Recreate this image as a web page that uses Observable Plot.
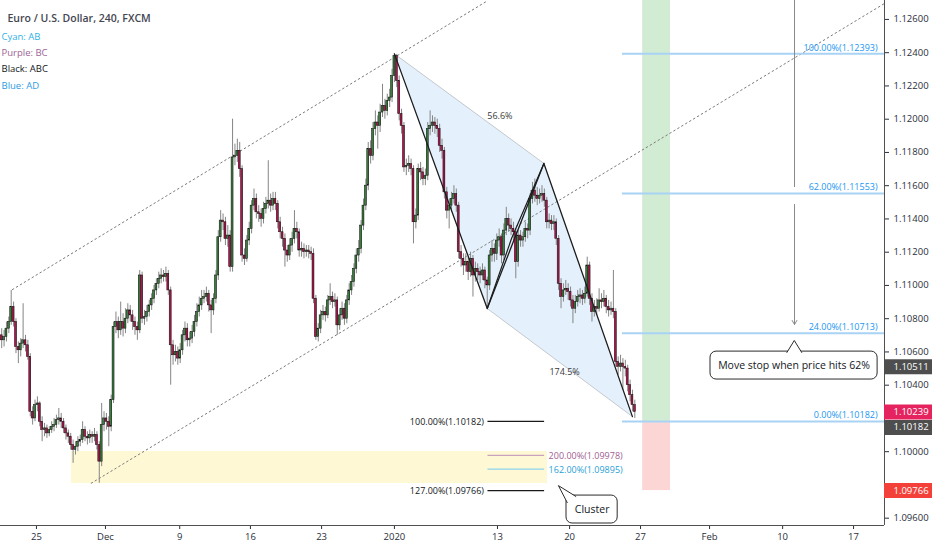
<!DOCTYPE html>
<html><head><meta charset="utf-8">
<script src="https://cdn.jsdelivr.net/npm/d3@7"></script>
<script src="https://cdn.jsdelivr.net/npm/@observablehq/plot@0.6"></script>
<style>
html,body{margin:0;padding:0;background:#fff;}
#chart{width:932px;height:550px;overflow:hidden;}
</style></head><body><div id="chart"></div>
<script>
// ---- EUR/USD 4h candles (bar index 0..266), open = previous close ----
const firstOpen = 1.1070;
const closes = [
1.1067,1.1069,1.1074,1.1078,1.1087,1.1078,1.1063,1.1061,1.1065,1.1067,
1.1064,1.1057,1.1024,1.1020,1.1028,1.1029,1.1018,1.1013,1.1014,1.1011,
1.1013,1.1015,1.1016,1.1019,1.1020,1.1018,1.1014,1.1011,1.1009,1.1004,
1.1001,1.1003,1.1006,1.1007,1.1013,1.1009,1.1008,1.1010,1.1009,1.1010,
1.1004,1.0994,1.1016,1.1020,1.1018,1.1015,1.1031,1.1075,1.1078,1.1073,
1.1078,1.1074,1.1080,1.1085,1.1082,1.1078,1.1075,1.1073,1.1106,1.1080,
1.1081,1.1084,1.1088,1.1092,1.1097,1.1101,1.1104,1.1106,1.1105,1.1107,
1.1097,1.1064,1.1058,1.1060,1.1056,1.1061,1.1070,1.1074,1.1067,1.1068,
1.1072,1.1078,1.1084,1.1088,1.1092,1.1093,1.1095,1.1088,1.1085,1.1092,
1.1106,1.1129,1.1139,1.1138,1.1128,1.1130,1.1111,1.1177,1.1178,1.1181,
1.1170,1.1118,1.1116,1.1127,1.1134,1.1148,1.1152,1.1144,1.1143,1.1140,
1.1146,1.1149,1.1151,1.1148,1.1152,1.1149,1.1138,1.1132,1.1128,1.1121,
1.1118,1.1124,1.1128,1.1134,1.1132,1.1121,1.1122,1.1120,1.1121,1.1120,
1.1119,1.1092,1.1069,1.1074,1.1082,1.1084,1.1082,1.1091,1.1093,1.1090,
1.1091,1.1076,1.1082,1.1086,1.1080,1.1091,1.1097,1.1102,1.1110,1.1118,
1.1122,1.1136,1.1148,1.1160,1.1182,1.1178,1.1194,1.1198,1.1196,1.1204,
1.1208,1.1205,1.1211,1.1213,1.1226,1.1238,1.1223,1.1203,1.1196,1.1171,
1.1172,1.1173,1.1170,1.1138,1.1142,1.1170,1.1168,1.1164,1.1166,1.1194,
1.1196,1.1198,1.1196,1.1194,1.1184,1.1181,1.1156,1.1145,1.1148,1.1152,
1.1155,1.1148,1.1120,1.1116,1.1112,1.1114,1.1108,1.1116,1.1106,1.1110,
1.1108,1.1106,1.1109,1.1103,1.1100,1.1118,1.1122,1.1119,1.1127,1.1129,
1.1118,1.1133,1.1140,1.1136,1.1134,1.1132,1.1114,1.1130,1.1127,1.1129,
1.1134,1.1133,1.1152,1.1157,1.1154,1.1152,1.1154,1.1155,1.1151,1.1138,
1.1139,1.1137,1.1138,1.1128,1.1101,1.1093,1.1097,1.1098,1.1096,1.1091,
1.1086,1.1090,1.1093,1.1094,1.1092,1.1095,1.1112,1.1092,1.1084,1.1087,
1.1086,1.1091,1.1090,1.1092,1.1087,1.1085,1.1086,1.1084,1.1054,1.1051,
1.1053,1.1051,1.1050,1.1040,1.1034,1.1028,1.10239];
const highs = [
1.1074,1.1073,1.1078,1.1081,1.1097,1.1090,1.1080,1.1066,1.1068,1.1089,
1.1070,1.1067,1.1059,1.1027,1.1031,1.1033,1.1030,1.1021,1.1017,1.1016,
1.1015,1.1018,1.1020,1.1022,1.1026,1.1023,1.1020,1.1016,1.1013,1.1011,
1.1007,1.1006,1.1009,1.1010,1.1018,1.1015,1.1012,1.1013,1.1012,1.1014,
1.1012,1.1006,1.1029,1.1024,1.1023,1.1021,1.1034,1.1078,1.1084,1.1081,
1.1090,1.1083,1.1086,1.1089,1.1088,1.1085,1.1081,1.1078,1.1109,1.1108,
1.1085,1.1088,1.1091,1.1095,1.1100,1.1104,1.1108,1.1110,1.1109,1.1111,
1.1109,1.1099,1.1067,1.1064,1.1063,1.1065,1.1073,1.1078,1.1077,1.1072,
1.1076,1.1082,1.1089,1.1093,1.1097,1.1097,1.1099,1.1097,1.1091,1.1095,
1.1109,1.1133,1.1145,1.1143,1.1141,1.1136,1.1133,1.1200,1.1185,1.1188,
1.1186,1.1172,1.1122,1.1130,1.1138,1.1151,1.1158,1.1155,1.1148,1.1146,
1.1150,1.1153,1.1175,1.1155,1.1156,1.1156,1.1151,1.1141,1.1135,1.1131,
1.1124,1.1128,1.1132,1.1145,1.1138,1.1134,1.1126,1.1125,1.1124,1.1124,
1.1123,1.1122,1.1094,1.1077,1.1085,1.1088,1.1087,1.1094,1.1101,1.1096,
1.1095,1.1093,1.1086,1.1090,1.1089,1.1094,1.1101,1.1106,1.1113,1.1122,
1.1127,1.1139,1.1152,1.1164,1.1186,1.1187,1.1198,1.1205,1.1202,1.1209,
1.1221,1.1212,1.1215,1.1218,1.1230,1.12393,1.1239,1.1226,1.1206,1.1198,
1.1176,1.1178,1.1176,1.1172,1.1146,1.1173,1.1174,1.1171,1.1170,1.1198,
1.1205,1.1202,1.1201,1.1200,1.1197,1.1188,1.1183,1.1159,1.1152,1.1156,
1.1160,1.1158,1.1150,1.1124,1.1119,1.1119,1.1117,1.1120,1.1118,1.1114,
1.1113,1.1111,1.1113,1.1111,1.1105,1.1121,1.1127,1.1125,1.1131,1.1134,
1.1131,1.1137,1.1147,1.1143,1.1140,1.1138,1.1134,1.1133,1.1133,1.1132,
1.1138,1.1137,1.1155,1.1162,1.1164,1.1159,1.1158,1.1160,1.1158,1.1153,
1.1143,1.1142,1.1142,1.1140,1.1130,1.1104,1.1101,1.1103,1.1101,1.1099,
1.1094,1.1094,1.1097,1.1098,1.1097,1.1099,1.1117,1.1114,1.1095,1.1091,
1.1092,1.1098,1.1095,1.1097,1.1094,1.1091,1.1090,1.1109,1.1086,1.1057,
1.1058,1.1056,1.1055,1.1052,1.1043,1.1037,1.1031];
const lows = [
1.1062,1.1063,1.1066,1.1071,1.1076,1.1075,1.1059,1.1053,1.1057,1.1062,
1.1060,1.1055,1.1021,1.1016,1.1018,1.1024,1.1015,1.1006,1.1009,1.1008,
1.1009,1.1011,1.1012,1.1014,1.1016,1.1014,1.1011,1.1007,1.1005,1.1001,
1.0993,1.0998,1.1000,1.1003,1.1005,1.1006,1.1004,1.1005,1.1005,1.1006,
1.1001,1.0981,1.0991,1.1012,1.1013,1.1003,1.1012,1.1029,1.1071,1.1068,
1.1070,1.1069,1.1071,1.1077,1.1078,1.1073,1.1070,1.1067,1.1071,1.1077,
1.1076,1.1078,1.1081,1.1085,1.1089,1.1094,1.1098,1.1101,1.1102,1.1102,
1.1094,1.1040,1.1052,1.1054,1.1052,1.1053,1.1058,1.1066,1.1063,1.1063,
1.1065,1.1069,1.1075,1.1081,1.1085,1.1089,1.1090,1.1084,1.1071,1.1082,
1.1089,1.1103,1.1126,1.1133,1.1124,1.1123,1.1108,1.1108,1.1172,1.1174,
1.1165,1.1114,1.1112,1.1114,1.1124,1.1131,1.1145,1.1140,1.1138,1.1135,
1.1137,1.1143,1.1146,1.1144,1.1145,1.1145,1.1134,1.1128,1.1123,1.1111,
1.1114,1.1115,1.1120,1.1125,1.1128,1.1117,1.1117,1.1116,1.1117,1.1116,
1.1115,1.1089,1.1067,1.1066,1.1071,1.1079,1.1078,1.1080,1.1088,1.1086,
1.1087,1.1070,1.1073,1.1079,1.1076,1.1077,1.1088,1.1094,1.1099,1.1107,
1.1114,1.1119,1.1133,1.1145,1.1157,1.1173,1.1175,1.1190,1.1182,1.1192,
1.1201,1.1200,1.1202,1.1207,1.1210,1.1222,1.1219,1.1199,1.1191,1.1168,
1.1166,1.1168,1.1166,1.1125,1.1134,1.1139,1.1163,1.1160,1.1160,1.1163,
1.1190,1.1192,1.1191,1.1189,1.1180,1.1176,1.1152,1.1140,1.1134,1.1144,
1.1149,1.1144,1.1116,1.1111,1.1106,1.1108,1.1103,1.1105,1.1093,1.1102,
1.1103,1.1101,1.1103,1.1098,1.1086,1.1097,1.1114,1.1114,1.1115,1.1123,
1.1113,1.1115,1.1130,1.1132,1.1130,1.1127,1.1104,1.1111,1.1123,1.1123,
1.1126,1.1128,1.1130,1.1149,1.1150,1.1148,1.1149,1.1150,1.1147,1.1134,
1.1134,1.1133,1.1133,1.1124,1.1097,1.1086,1.1090,1.1094,1.1091,1.1087,
1.1077,1.1083,1.1087,1.1089,1.1088,1.1089,1.1093,1.1088,1.1078,1.1081,
1.1082,1.1084,1.1086,1.1087,1.1083,1.1081,1.1082,1.1080,1.1051,1.1046,
1.1048,1.1037,1.1045,1.1036,1.1030,1.1024,1.1020];

// ---- axes ----
const xDomain = [-0.5, 370.9];          // bar index (4h bars, weekends compressed)
const yDomain = [1.09556, 1.12714];
const tickBars   = [14.6, 43.6, 74.8, 104.5, 134.4, 165.0, 208.3, 238.6, 268.4, 297.4, 328.1, 357.9];
const tickLabels = ["25","Dec","9","16","23","2020","13","20","27","Feb","10","17"];
const priceTicks = [1.096, 1.100, 1.104, 1.106, 1.108, 1.110, 1.112, 1.114, 1.116, 1.118, 1.120, 1.122, 1.124, 1.126];

// ---- texts ----
const titleText = "Euro / U.S. Dollar, 240, FXCM";
const legendTexts  = ["Cyan: AB", "Purple: BC", "Black: ABC", "Blue: AD"];
const legendColors = ["#2fb1e6", "#9d6396", "#131722", "#2d9be5"];

// ---- drawings ----
const upperChannel = [{bar: 4.5, price: 1.10975}, {bar: 204.3, price: 1.12714}];
const lowerChannel = [{bar: 37.6, price: 1.09810}, {bar: 370.9, price: 1.12696}];
const patternBars   = [165.0, 204.0, 227.8, 265.0];          // X, A, B, D
const patternPrices = [1.12393, 1.10861, 1.11734, 1.10211];
const lensPoint = {bar: 214.2, price: 1.11282};
const ratioLabels = [{bar: 209.3, price: 1.12016, text: "56.6%"}, {bar: 236.5, price: 1.10478, text: "174.5%"}];

const clusterZone = {bar0: 29.3, bar1: 229.3, lo: 1.09808, hi: 1.10001};
const tradeBox = {bar0: 269.3, bar1: 281.0, entry: 1.10182, stop: 1.09766};

const leftFibBars = [204.3, 228.1];
const leftFibs = [
  {price: 1.10182, text: "100.00%(1.10182)", line: "#1a1a1a", color: "#131722", side: "left"},
  {price: 1.09978, text: "200.00%(1.09978)", line: "#c9a2bd", color: "#a0608f", side: "right"},
  {price: 1.09895, text: "162.00%(1.09895)", line: "#8fd5ee", color: "#2a9fd6", side: "right"},
  {price: 1.09766, text: "127.00%(1.09766)", line: "#1a1a1a", color: "#131722", side: "left"}
];
const rightFibStart = 260.8;
const rightFibLabelBar = 368.0;
const rightFibs = [
  {price: 1.12393, text: "100.00%(1.12393)"},
  {price: 1.11553, text: "62.00%(1.11553)"},
  {price: 1.10713, text: "24.00%(1.10713)"},
  {price: 1.10182, text: "0.00%(1.10182)"}
];
const stopArrow = {bar: 333.1, top: 1.12714, gapTop: 1.11589, gapBottom: 1.11487, tip: 1.10765};
const callouts = [
  {text: "Move stop when price hits 62%", bar0: 297.8, bar1: 368.0, lo: 1.10434, hi: 1.10602,
   pointer: [{bar: 329.9, price: 1.10597}, {bar: 333.0, price: 1.10669}, {bar: 336.1, price: 1.10597}]},
  {text: "Cluster", bar0: 237.3, bar1: 258.8, lo: 1.09568, hi: 1.09736,
   pointer: [{bar: 237.6, price: 1.09694}, {bar: 233.9, price: 1.09796}, {bar: 241.2, price: 1.09731}]}
];
const priceLabels = [
  {price: 1.10511, color: "#4e4e4e", shift: 0},
  {price: 1.10239, color: "#e5245f", shift: 0},
  {price: 1.10182, color: "#4e4e4e", shift: 6},
  {price: 1.09766, color: "#f3413a", shift: 0}
];

// ---- build ----
const rows = closes.map((c, i) => {
  const open = i === 0 ? firstOpen : closes[i - 1];
  return {bar: i, open, close: c, high: Math.max(highs[i], open, c), low: Math.min(lows[i], open, c), up: c >= open};
});
const pattern = patternBars.map((b, k) => ({bar: b, price: patternPrices[k]}));
const polygon = [pattern[0], pattern[2], pattern[3], pattern[1]];
const zigzag = pattern;
const lens = [pattern[1], lensPoint, pattern[2]];
const labelOf = new Map(tickBars.map((b, k) => [b, tickLabels[k]]));
const xFar = xDomain[1] + 48 * (xDomain[1] - xDomain[0]) / 884;
const green = "#37803a", red = "#b3124d";
const fontFam = "'Open Sans', 'Noto Sans', sans-serif";

const marks = [
  // zones
  Plot.rect([clusterZone], {x1: "bar0", x2: "bar1", y1: "lo", y2: "hi", fill: "#fff8d5"}),
  Plot.rect([tradeBox], {x1: "bar0", x2: "bar1", y1: "entry", y2: yDomain[1], fill: "#d2ebd3"}),
  Plot.rect([tradeBox], {x1: "bar0", x2: "bar1", y1: "stop", y2: "entry", fill: "#fbd6d5"}),
  // pattern fill and edges
  Plot.line(polygon, {x: "bar", y: "price", fill: "#e4f1fc", stroke: "none", curve: "linear-closed"}),
  Plot.line([pattern[0], pattern[2]], {x: "bar", y: "price", stroke: "#c4c8cc", strokeWidth: 1}),
  Plot.line([pattern[1], pattern[3]], {x: "bar", y: "price", stroke: "#c4c8cc", strokeWidth: 1}),
  // channel
  Plot.line(upperChannel, {x: "bar", y: "price", stroke: "#7a7a7a", strokeWidth: 1, strokeDasharray: "1.6,3"}),
  Plot.line(lowerChannel, {x: "bar", y: "price", stroke: "#7a7a7a", strokeWidth: 1, strokeDasharray: "1.6,3"}),
  // candles
  Plot.ruleX(rows, {x: "bar", y1: "low", y2: "high", stroke: "#858585", strokeWidth: 1}),
  Plot.rect(rows.filter(d => d.up), {x1: d => d.bar - 0.4, x2: d => d.bar + 0.4, y1: "open", y2: "close", fill: green, stroke: "#111", strokeWidth: 0.55}),
  Plot.rect(rows.filter(d => !d.up), {x1: d => d.bar - 0.4, x2: d => d.bar + 0.4, y1: "open", y2: "close", fill: red, stroke: "#111", strokeWidth: 0.55}),
  // zigzag
  Plot.line(zigzag, {x: "bar", y: "price", stroke: "#1c1c1c", strokeWidth: 1.3}),
  Plot.line(lens, {x: "bar", y: "price", stroke: "#1c1c1c", strokeWidth: 1.2}),
  Plot.text(ratioLabels, {x: "bar", y: "price", text: "text", fill: "#3a3a3a", fontSize: 9}),
  // left fib lines
  Plot.ruleY(leftFibs, {y: "price", x1: leftFibBars[0], x2: leftFibBars[1], stroke: "line", strokeWidth: 1.2}),
  Plot.text(leftFibs.filter(d => d.side === "left"), {x: leftFibBars[0], y: "price", text: "text", fill: "color", textAnchor: "end", dx: -4, dy: 1, fontSize: 9}),
  Plot.text(leftFibs.filter(d => d.side === "right"), {x: leftFibBars[1], y: "price", text: "text", fill: "color", textAnchor: "start", dx: 4, dy: 1, fontSize: 9}),
  // right fib lines
  Plot.ruleY(rightFibs, {y: "price", x1: rightFibStart, x2: xDomain[1], stroke: "#a8d3f5", strokeWidth: 2}),
  Plot.text(rightFibs, {x: rightFibLabelBar, y: "price", text: "text", fill: "#2196f3", textAnchor: "end", dy: -6, fontSize: 9}),
  // vertical arrow
  Plot.ruleX([stopArrow], {x: "bar", y1: "top", y2: "gapTop", stroke: "#8a8a8a", strokeWidth: 1}),
  Plot.arrow([stopArrow], {x1: "bar", x2: "bar", y1: "gapBottom", y2: "tip", stroke: "#8a8a8a", strokeWidth: 1, headLength: 7}),
  // callouts
  ...callouts.flatMap(c => [
    Plot.rect([c], {x1: "bar0", x2: "bar1", y1: "lo", y2: "hi", rx: 6, fill: "white", stroke: "#2b2b2b", strokeWidth: 1}),
    Plot.line(c.pointer, {x: "bar", y: "price", fill: "white", stroke: "none", curve: "linear-closed"}),
    Plot.line(c.pointer, {x: "bar", y: "price", stroke: "#2b2b2b", strokeWidth: 1}),
    Plot.text([c], {x: d => (d.bar0 + d.bar1) / 2, y: d => (d.lo + d.hi) / 2, text: "text", fill: "#131722", fontSize: 10.5})
  ]),
  // frame lines
  Plot.ruleX([xDomain[1]], {stroke: "#505050", strokeWidth: 1}),
  Plot.ruleY([yDomain[0]], {stroke: "#505050", strokeWidth: 1}),
  // price labels on the axis
  ...priceLabels.map(p => Plot.ruleY([p], {y: "price", x1: xDomain[1], x2: xFar, stroke: p.color, strokeWidth: 15, dy: p.shift})),
  ...priceLabels.map(p => Plot.text([p], {x: xDomain[1], y: "price", text: d => d.price.toFixed(5), fill: "white", textAnchor: "start", dx: 9, dy: p.shift, fontSize: 9.5})),
  // title & legend
  Plot.text([titleText], {frameAnchor: "top-left", text: d => d, dx: 7, dy: 14.5, fill: "#434651", fontSize: 10.5, fontWeight: 600, textAnchor: "start"}),
  ...legendTexts.map((t, k) => Plot.text([t], {frameAnchor: "top-left", text: d => d, dx: 1, dy: 33 + k * 16.1, fill: legendColors[k], fontSize: 9.5, textAnchor: "start"}))
];

const plot = Plot.plot({
  width: 932, height: 550,
  marginLeft: 0, marginRight: 48, marginTop: 0, marginBottom: 25,
  style: {fontFamily: fontFam, fontSize: "9.5px", color: "#2a2e39", background: "#ffffff", overflow: "visible"},
  x: {domain: xDomain, ticks: tickBars, tickFormat: d => labelOf.get(d), tickSize: 4, tickPadding: 4, label: null},
  y: {domain: yDomain, axis: "right", ticks: priceTicks, tickFormat: d3.format(".5f"), tickSize: 4, tickPadding: 5, label: null},
  marks
});
document.getElementById("chart").append(plot);
</script></body></html>
